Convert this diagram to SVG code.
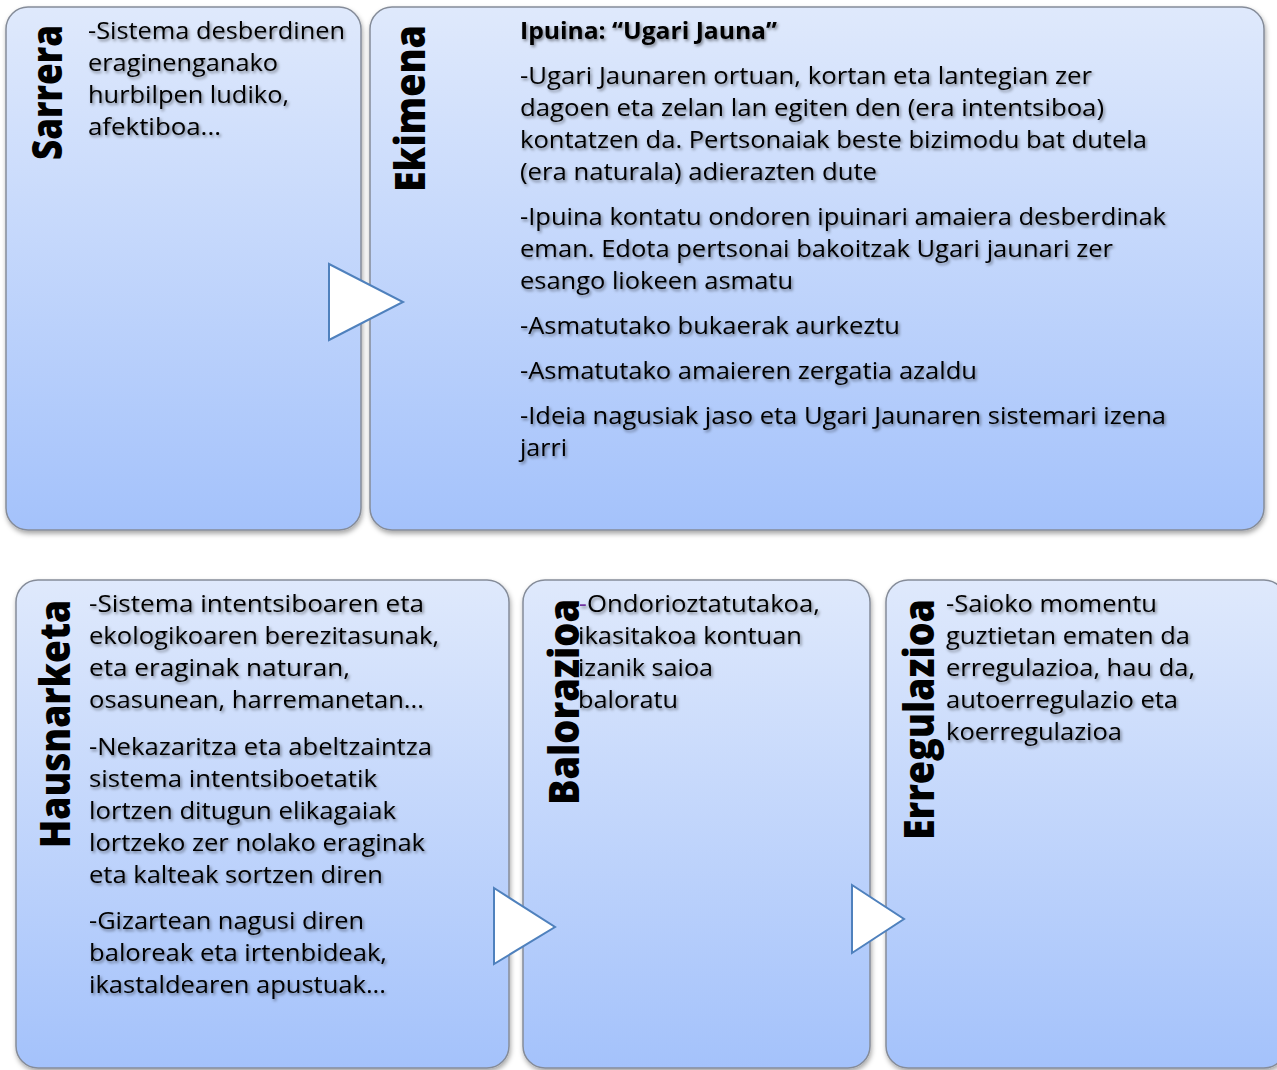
<svg xmlns="http://www.w3.org/2000/svg" width="1277" height="1070" viewBox="0 0 1277 1070">
<defs>
<linearGradient id="g" x1="0" y1="0" x2="0" y2="1">
<stop offset="0" stop-color="#dfe9fc"/>
<stop offset="1" stop-color="#a4c2fb"/>
</linearGradient>
<filter id="bs" x="-5%" y="-5%" width="110%" height="112%">
<feDropShadow dx="1" dy="3" stdDeviation="2.5" flood-color="#000" flood-opacity="0.35"/>
</filter>
<filter id="ts" x="-5%" y="-30%" width="110%" height="160%">
<feDropShadow dx="1.5" dy="2" stdDeviation="1.5" flood-color="#000" flood-opacity="0.45"/>
</filter>
<style>
.box{fill:url(#g);stroke:#858c99;stroke-width:1.5;filter:url(#bs)}
.t{font-family:"Open Sans","DejaVu Sans",sans-serif;font-size:24px;fill:#000;filter:url(#ts);white-space:pre}
.b{font-weight:bold}
.h{font-family:"Open Sans","DejaVu Sans",sans-serif;font-size:43px;font-weight:800;fill:#000}
.arr{fill:#fff;stroke:#4f81bd;stroke-width:2;stroke-linejoin:miter}
</style>
</defs>
<rect width="1277" height="1070" fill="#fff"/>

<g id="sarrera">
<rect class="box" x="6" y="7" width="355" height="523" rx="22"/>
<text class="h" transform="translate(62,160) rotate(-90)" textLength="135" lengthAdjust="spacingAndGlyphs">Sarrera</text>
<g class="t">
<text x="88" y="39" textLength="257" lengthAdjust="spacingAndGlyphs">-Sistema desberdinen</text>
<text x="88" y="71" textLength="190" lengthAdjust="spacingAndGlyphs">eraginenganako</text>
<text x="88" y="103" textLength="201" lengthAdjust="spacingAndGlyphs">hurbilpen ludiko,</text>
<text x="88" y="135" textLength="133" lengthAdjust="spacingAndGlyphs">afektiboa...</text>
</g>
</g>

<g id="ekimena">
<rect class="box" x="370" y="7" width="894" height="523" rx="22"/>
<text class="h" transform="translate(425,192) rotate(-90)" textLength="167" lengthAdjust="spacingAndGlyphs">Ekimena</text>
<g class="t">
<text class="b" x="520" y="39" textLength="257" lengthAdjust="spacingAndGlyphs">Ipuina: “Ugari Jauna”</text>
<text x="520" y="84" textLength="572" lengthAdjust="spacingAndGlyphs">-Ugari Jaunaren ortuan, kortan eta lantegian zer</text>
<text x="520" y="116" textLength="584" lengthAdjust="spacingAndGlyphs">dagoen eta zelan lan egiten den (era intentsiboa)</text>
<text x="520" y="148" textLength="627" lengthAdjust="spacingAndGlyphs">kontatzen da. Pertsonaiak beste bizimodu bat dutela</text>
<text x="520" y="180" textLength="357" lengthAdjust="spacingAndGlyphs">(era naturala) adierazten dute</text>
<text x="520" y="225" textLength="646" lengthAdjust="spacingAndGlyphs">-Ipuina kontatu ondoren ipuinari amaiera desberdinak</text>
<text x="520" y="257" textLength="593" lengthAdjust="spacingAndGlyphs">eman. Edota pertsonai bakoitzak Ugari jaunari zer</text>
<text x="520" y="289" textLength="273" lengthAdjust="spacingAndGlyphs">esango liokeen asmatu</text>
<text x="520" y="334" textLength="380" lengthAdjust="spacingAndGlyphs">-Asmatutako bukaerak aurkeztu</text>
<text x="520" y="379" textLength="457" lengthAdjust="spacingAndGlyphs">-Asmatutako amaieren zergatia azaldu</text>
<text x="520" y="424" textLength="646" lengthAdjust="spacingAndGlyphs">-Ideia nagusiak jaso eta Ugari Jaunaren sistemari izena</text>
<text x="520" y="456" textLength="47" lengthAdjust="spacingAndGlyphs">jarri</text>
</g>
</g>

<g id="hausnarketa">
<rect class="box" x="16" y="580" width="493" height="488" rx="22"/>
<text class="h" transform="translate(70,848) rotate(-90)" textLength="248" lengthAdjust="spacingAndGlyphs">Hausnarketa</text>
<g class="t">
<text x="89" y="612" textLength="335" lengthAdjust="spacingAndGlyphs">-Sistema intentsiboaren  eta</text>
<text x="89" y="644" textLength="350" lengthAdjust="spacingAndGlyphs">ekologikoaren berezitasunak,</text>
<text x="89" y="676" textLength="261" lengthAdjust="spacingAndGlyphs">eta eraginak  naturan,</text>
<text x="89" y="708" textLength="335" lengthAdjust="spacingAndGlyphs">osasunean, harremanetan...</text>
<text x="89" y="755" textLength="343" lengthAdjust="spacingAndGlyphs">-Nekazaritza eta abeltzaintza</text>
<text x="89" y="787" textLength="288" lengthAdjust="spacingAndGlyphs">sistema intentsiboetatik</text>
<text x="89" y="819" textLength="307" lengthAdjust="spacingAndGlyphs">lortzen ditugun elikagaiak</text>
<text x="89" y="851" textLength="336" lengthAdjust="spacingAndGlyphs">lortzeko zer nolako eraginak</text>
<text x="89" y="883" textLength="294" lengthAdjust="spacingAndGlyphs">eta kalteak sortzen diren</text>
<text x="89" y="929" textLength="275" lengthAdjust="spacingAndGlyphs">-Gizartean nagusi diren</text>
<text x="89" y="961" textLength="298" lengthAdjust="spacingAndGlyphs">baloreak eta irtenbideak,</text>
<text x="89" y="993" textLength="297" lengthAdjust="spacingAndGlyphs">ikastaldearen apustuak...</text>
</g>
</g>

<g id="balorazioa">
<rect class="box" x="523" y="580" width="347" height="488" rx="22"/>
<text class="h" transform="translate(579,805) rotate(-90)" textLength="206" lengthAdjust="spacingAndGlyphs">Balorazioa</text>
<g class="t">
<text x="579" y="612" style="fill:#7030a0">-</text>
<text x="587" y="612" textLength="233" lengthAdjust="spacingAndGlyphs">Ondorioztatutakoa,</text>
<text x="578" y="644" textLength="224" lengthAdjust="spacingAndGlyphs">ikasitakoa kontuan</text>
<text x="578" y="676" textLength="135" lengthAdjust="spacingAndGlyphs">izanik saioa</text>
<text x="578" y="708" textLength="100" lengthAdjust="spacingAndGlyphs">baloratu</text>
</g>
</g>

<g id="erregulazioa">
<rect class="box" x="886" y="580" width="400" height="488" rx="22"/>
<text class="h" transform="translate(934,840) rotate(-90)" textLength="241" lengthAdjust="spacingAndGlyphs">Erregulazioa</text>
<g class="t">
<text x="946" y="612" textLength="211" lengthAdjust="spacingAndGlyphs">-Saioko momentu</text>
<text x="946" y="644" textLength="244" lengthAdjust="spacingAndGlyphs">guztietan ematen da</text>
<text x="946" y="676" textLength="249" lengthAdjust="spacingAndGlyphs">erregulazioa, hau da,</text>
<text x="946" y="708" textLength="232" lengthAdjust="spacingAndGlyphs">autoerregulazio eta</text>
<text x="946" y="740" textLength="176" lengthAdjust="spacingAndGlyphs">koerregulazioa</text>
</g>
</g>

<g id="connectors">
<polygon class="arr" points="329,264 403,302 329,340"/>
<polygon class="arr" points="494,888 555,927 494,964"/>
<polygon class="arr" points="852,885 904,919 852,953"/>
</g>
</svg>
